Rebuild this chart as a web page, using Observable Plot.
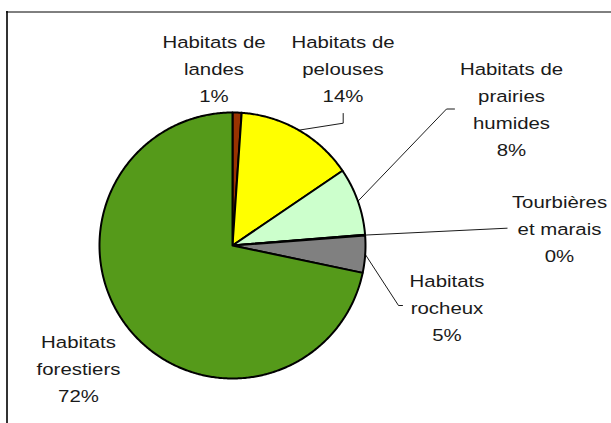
<!DOCTYPE html>
<html><head><meta charset="utf-8">
<script src="https://cdn.jsdelivr.net/npm/d3@7"></script>
<script src="https://cdn.jsdelivr.net/npm/@observablehq/plot@0.6"></script>
<style>body{margin:0;background:#fff}</style>
</head><body><div id="chart"></div>
<script>
// ---- data ----
const categories = ["Habitats de landes", "Habitats de pelouses", "Habitats de prairies humides", "Tourbières et marais", "Habitats rocheux", "Habitats forestiers"];
const labelLines = [["Habitats de", "landes"], ["Habitats de", "pelouses"], ["Habitats de", "prairies", "humides"], ["Tourbières", "et marais"], ["Habitats", "rocheux"], ["Habitats", "forestiers"]];
const values = [1.1, 14.4, 8.2, 0.1, 4.5, 71.7];
const colors = ["#993300", "#FFFF00", "#CCFFCC", "#333333", "#808080", "#559A1A"];

// ---- layout ----
const W = 611, H = 423, cx = 232, cy = 245, r = 133;
const labelPos = [[213.5, 101.5], [342.5, 101.5], [511, 155.5], [559, 261], [446.5, 340], [78, 401.5]];
const leaderElbows = [null, [[342.7, 122.7], [342.7, 113]], [[446, 108.5], [454, 108.5]], [[506.6, 227.7]], [[398, 305], [402, 305]], null];

const arcs = d3.pie().sort(null).startAngle(0).endAngle(2 * Math.PI)(values);
const pt = (a, rr) => [cx + rr * Math.sin(a), cy - rr * Math.cos(a)];

const sliceRows = [];
arcs.forEach((a, i) => {
  const cat = categories[i];
  sliceRows.push({cat, x: cx, y: cy});
  const n = Math.max(2, Math.ceil((a.endAngle - a.startAngle) / 0.01) + 1);
  for (let k = 0; k < n; k++) {
    const ang = a.startAngle + (a.endAngle - a.startAngle) * k / (n - 1);
    const [x, y] = pt(ang, r);
    sliceRows.push({cat, x, y});
  }
  sliceRows.push({cat, x: cx, y: cy});
});

const leaderRows = [];
arcs.forEach((a, i) => {
  if (!leaderElbows[i]) return;
  const m = (a.startAngle + a.endAngle) / 2;
  const [x, y] = pt(m, r);
  leaderRows.push({cat: categories[i], x, y});
  leaderElbows[i].forEach(([ex, ey]) => leaderRows.push({cat: categories[i], x: ex, y: ey}));
});

const labelRows = categories.map((c, i) => ({
  cat: c,
  x: labelPos[i][0],
  y: labelPos[i][1],
  text: labelLines[i].join("\n") + "\n" + Math.round(values[i]) + "%"
}));

const chart = Plot.plot({
  width: W, height: H,
  margin: 0,
  x: {domain: [0, W], range: [0, W], axis: null},
  y: {domain: [0, H], range: [0, H], axis: null},
  color: {domain: categories, range: colors},
  style: {background: "#fff", fontFamily: "'Liberation Sans', Arial, sans-serif"},
  marks: [
    Plot.ruleX([6.5], {y1: 11, y2: H, stroke: "#333", strokeWidth: 2}),
    Plot.ruleY([11.5], {x1: 6, x2: W, stroke: "#000", strokeWidth: 1}),
    Plot.line(sliceRows, {x: "x", y: "y", z: "cat", fill: "cat", stroke: "#000", strokeWidth: 2, strokeLinejoin: "round", curve: "linear"}),
    Plot.line(leaderRows, {x: "x", y: "y", z: "cat", stroke: "#000", strokeWidth: 0.9, curve: "linear"}),
    Plot.text(labelRows, {x: "x", y: "y", text: "text", lineAnchor: "bottom", lineHeight: 27 / 17, fontSize: 17, fill: "#1a1a1a", textAnchor: "middle"})
  ]
});
document.getElementById("chart").appendChild(chart);

// horizontal stretch of labels (reference text is wider than its height suggests)
chart.querySelectorAll('g[aria-label="text"] text').forEach(t => {
  const tr = t.getAttribute("transform");
  if (tr && tr.includes("translate")) {
    t.setAttribute("transform", tr + " scale(1.2,1)");
  } else {
    const x = +t.getAttribute("x") || 0;
    t.setAttribute("transform", `translate(${x},0) scale(1.2,1) translate(${-x},0)`);
  }
});
</script>
</body></html>
